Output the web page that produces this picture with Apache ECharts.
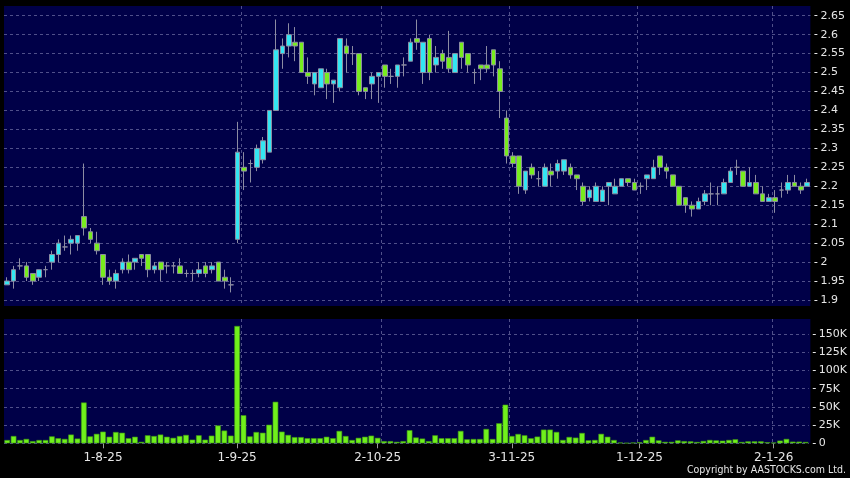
<!DOCTYPE html>
<html>
<head>
<meta charset="utf-8">
<script src="https://cdn.jsdelivr.net/npm/echarts@6/dist/echarts.min.js"></script>
<style>
html,body{margin:0;padding:0;background:#000;}
#c{width:850px;height:478px;}
</style>
</head>
<body>
<div id="c"></div>
<script>
const dates = [
'11-7-25','14-7-25','15-7-25','16-7-25','17-7-25','18-7-25','21-7-25','22-7-25','23-7-25','24-7-25','25-7-25','28-7-25','29-7-25','30-7-25','31-7-25',
'1-8-25','4-8-25','5-8-25','6-8-25','7-8-25','8-8-25','11-8-25','12-8-25','13-8-25','14-8-25','15-8-25','18-8-25','19-8-25','20-8-25','21-8-25','22-8-25','25-8-25','26-8-25','27-8-25','28-8-25','29-8-25',
'1-9-25','2-9-25','3-9-25','4-9-25','5-9-25','8-9-25','9-9-25','10-9-25','11-9-25','12-9-25','15-9-25','16-9-25','17-9-25','18-9-25','19-9-25','22-9-25','23-9-25','24-9-25','25-9-25','26-9-25','29-9-25','30-9-25',
'2-10-25','3-10-25','6-10-25','7-10-25','8-10-25','9-10-25','10-10-25','13-10-25','14-10-25','15-10-25','16-10-25','17-10-25','20-10-25','21-10-25','22-10-25','23-10-25','24-10-25','27-10-25','28-10-25','30-10-25','31-10-25',
'3-11-25','4-11-25','5-11-25','6-11-25','7-11-25','10-11-25','11-11-25','12-11-25','13-11-25','14-11-25','17-11-25','18-11-25','19-11-25','20-11-25','21-11-25','24-11-25','25-11-25','26-11-25','27-11-25','28-11-25',
'1-12-25','2-12-25','3-12-25','4-12-25','5-12-25','8-12-25','9-12-25','10-12-25','11-12-25','12-12-25','15-12-25','16-12-25','17-12-25','18-12-25','19-12-25','22-12-25','23-12-25','24-12-25','29-12-25','30-12-25','31-12-25',
'2-1-26','5-1-26','6-1-26','7-1-26','8-1-26','9-1-26'
];

const opens = [
1.94,1.95,1.99,1.99,1.97,1.96,1.98,2.00,2.02,2.04,
2.05,2.05,2.12,2.08,2.05,2.02,1.96,1.95,1.98,2.00,
2.00,2.02,2.02,1.98,2.00,1.99,1.99,1.99,1.97,1.97,
1.97,1.99,1.98,2.00,1.96,1.94,2.06,2.25,2.26,2.25,
2.27,2.29,2.40,2.55,2.57,2.58,2.58,2.50,2.47,2.46,
2.50,2.47,2.46,2.57,2.55,2.55,2.46,2.47,2.49,2.52,
2.49,2.49,2.52,2.53,2.59,2.50,2.59,2.52,2.55,2.54,
2.50,2.58,2.55,2.50,2.52,2.52,2.56,2.51,2.38,2.28,
2.28,2.19,2.25,2.22,2.20,2.24,2.24,2.24,2.25,2.23,
2.20,2.17,2.16,2.16,2.20,2.18,2.20,2.22,2.21,2.20,
2.22,2.22,2.28,2.25,2.23,2.20,2.17,2.15,2.14,2.16,
2.18,2.18,2.18,2.21,2.25,2.24,2.20,2.21,2.18,2.16,
2.17,2.19,2.19,2.21,2.20,2.20
];
const closes = [
1.95,1.98,1.99,1.96,1.95,1.98,1.98,2.02,2.05,2.04,
2.06,2.07,2.09,2.06,2.03,1.96,1.95,1.97,2.00,1.98,
2.01,2.01,1.98,1.99,1.98,1.99,1.99,1.97,1.97,1.97,
1.98,1.97,1.99,1.95,1.95,1.94,2.29,2.24,2.26,2.30,
2.32,2.40,2.56,2.57,2.60,2.57,2.50,2.49,2.50,2.51,
2.47,2.48,2.59,2.55,2.55,2.45,2.45,2.49,2.50,2.49,
2.49,2.52,2.52,2.58,2.58,2.58,2.50,2.54,2.53,2.51,
2.55,2.54,2.52,2.50,2.51,2.51,2.52,2.45,2.28,2.26,
2.20,2.24,2.23,2.22,2.25,2.23,2.26,2.27,2.23,2.22,
2.16,2.19,2.20,2.19,2.21,2.20,2.22,2.21,2.19,2.20,
2.23,2.25,2.25,2.24,2.20,2.15,2.15,2.14,2.16,2.18,
2.18,2.18,2.21,2.24,2.25,2.20,2.21,2.18,2.16,2.17,
2.16,2.19,2.21,2.20,2.19,2.21
];
const lows = [
1.94,1.93,1.98,1.95,1.94,1.95,1.96,1.98,2.00,2.03,
2.02,2.03,2.07,2.05,2.02,1.94,1.94,1.93,1.97,1.97,
1.98,1.99,1.96,1.97,1.95,1.97,1.97,1.97,1.96,1.95,
1.96,1.96,1.97,1.95,1.93,1.92,2.05,2.19,2.21,2.24,
2.26,2.29,2.40,2.51,2.54,2.53,2.50,2.47,2.44,2.46,
2.43,2.42,2.45,2.50,2.52,2.44,2.43,2.43,2.42,2.46,
2.47,2.46,2.49,2.53,2.56,2.47,2.48,2.50,2.51,2.50,
2.50,2.51,2.50,2.47,2.48,2.50,2.49,2.38,2.26,2.25,
2.18,2.18,2.22,2.20,2.20,2.20,2.22,2.23,2.22,2.19,
2.15,2.16,2.16,2.16,2.15,2.18,2.20,2.20,2.19,2.18,
2.19,2.22,2.23,2.22,2.20,2.15,2.13,2.12,2.14,2.15,
2.15,2.15,2.18,2.21,2.23,2.20,2.20,2.18,2.16,2.16,
2.13,2.17,2.18,2.20,2.18,2.20
];
const highs = [
1.96,1.99,2.01,2.00,1.97,1.98,1.99,2.03,2.06,2.07,
2.07,2.07,2.26,2.09,2.08,2.02,1.98,1.98,2.01,2.02,
2.01,2.02,2.02,2.00,2.00,2.00,2.00,2.01,1.98,1.98,
2.00,2.00,2.00,2.00,1.98,1.96,2.37,2.29,2.27,2.31,
2.33,2.40,2.64,2.59,2.63,2.62,2.58,2.54,2.50,2.51,
2.51,2.48,2.59,2.59,2.57,2.55,2.46,2.50,2.50,2.52,
2.51,2.52,2.54,2.59,2.64,2.58,2.60,2.57,2.56,2.61,
2.55,2.58,2.55,2.51,2.52,2.57,2.56,2.53,2.40,2.29,
2.28,2.24,2.26,2.24,2.26,2.26,2.27,2.27,2.26,2.23,
2.21,2.20,2.21,2.20,2.21,2.22,2.22,2.22,2.22,2.21,
2.23,2.27,2.28,2.26,2.23,2.20,2.17,2.16,2.17,2.19,
2.21,2.20,2.22,2.25,2.27,2.24,2.25,2.23,2.20,2.18,
2.19,2.21,2.23,2.23,2.21,2.22
];
const volumes = [
4500,10000,4500,6000,3000,4500,4500,9500,7000,6000,
12000,6500,56000,9500,13000,16000,9000,15500,14500,7000,
9000,2000,11000,10000,12000,9000,7500,10000,11500,5000,
11000,5000,10500,24500,17500,10500,161000,38500,9500,15500,
14500,25500,57000,16000,11500,8500,8500,7000,7000,7000,
9000,7000,17000,10000,4500,7500,9000,10500,7500,3000,
3000,2000,3000,18000,8000,6500,3000,11000,7000,7000,
7000,17000,5500,5900,5900,19700,5900,27500,53000,10000,
12800,11000,6900,9200,18800,18800,15600,4600,8700,7800,
14200,4100,4600,13000,9000,4500,1000,500,1000,1500,
4500,9000,4000,2000,2000,4000,3000,2700,1800,3200,
4600,4000,3600,4600,5500,1800,2700,2700,2700,1400,
1000,3700,6000,2300,2300,1800
];
const priceTicks = {min: 1.9, max: 2.65, step: 0.05};
const volumeTicks = {min: 0, max: 150000, step: 25000};
const tickLabels = ['1-8-25','1-9-25','2-10-25','3-11-25','1-12-25','2-1-26'];
const gridLineDates = ['4-8-25','2-9-25','3-10-25','3-11-25','1-12-25','2-1-26'];

const candles = dates.map((d, i) => [opens[i], closes[i], lows[i], highs[i]]);

const NAVY = '#000048';
const GRIDC = '#50508a';
const TEXTC = '#e6e6e6';
const FONT = 'DejaVu Sans';
const L = 4, W = 806.4;

const isGridLine = (i, v) => gridLineDates.indexOf(v) >= 0;
const isTick = (i, v) => tickLabels.indexOf(v) >= 0;

const chart = echarts.init(document.getElementById('c'), null, {renderer: 'canvas'});
chart.setOption({
  backgroundColor: '#000',
  animation: false,
  grid: [
    {left: L, top: 6, width: W, height: 300, show: true, backgroundColor: NAVY, borderWidth: 0},
    {left: L, top: 15.7, width: W, height: 284.3, show: false},
    {left: L, top: 319, width: W, height: 124.3, show: true, backgroundColor: NAVY, borderWidth: 0},
    {left: L, top: 334, width: W, height: 109.3, show: false}
  ],
  xAxis: [
    {type: 'category', gridIndex: 0, data: dates, boundaryGap: true,
     axisLine: {show: false}, axisTick: {show: false}, axisLabel: {show: false},
     splitLine: {show: true, interval: isGridLine, showMinLine: false, showMaxLine: false,
                 lineStyle: {color: GRIDC, type: [3, 3], width: 1}}},
    {type: 'category', gridIndex: 1, data: dates, boundaryGap: true,
     axisLine: {show: false}, axisTick: {show: false}, axisLabel: {show: false}, splitLine: {show: false}},
    {type: 'category', gridIndex: 2, data: dates, boundaryGap: true,
     axisLine: {show: false}, axisTick: {show: false}, axisLabel: {show: false},
     splitLine: {show: true, interval: isGridLine, showMinLine: false, showMaxLine: false,
                 lineStyle: {color: GRIDC, type: [3, 3], width: 1}}},
    {type: 'category', gridIndex: 3, data: dates, boundaryGap: true,
     axisLine: {show: false},
     axisTick: {show: true, interval: isTick, alignWithLabel: true, length: 5, lineStyle: {color: '#9a9a9a'}},
     axisLabel: {show: true, interval: isTick, color: TEXTC, fontFamily: FONT, fontSize: 12, margin: 9},
     splitLine: {show: false}}
  ],
  yAxis: [
    {type: 'value', gridIndex: 0, show: false, min: 0, max: 1},
    {type: 'value', gridIndex: 1, position: 'right', offset: 4,
     min: priceTicks.min, max: priceTicks.max, interval: priceTicks.step,
     axisLine: {show: false},
     axisTick: {show: true, length: 3, lineStyle: {color: TEXTC}},
     axisLabel: {color: TEXTC, fontFamily: FONT, fontSize: 11, margin: 6,
                 formatter: v => String(+v.toFixed(2))},
     splitLine: {show: true, lineStyle: {color: GRIDC, type: [3, 3], width: 1}}},
    {type: 'value', gridIndex: 2, show: false, min: 0, max: 1},
    {type: 'value', gridIndex: 3, position: 'right', offset: 4,
     min: volumeTicks.min, max: volumeTicks.max, interval: volumeTicks.step,
     axisLine: {show: false},
     axisTick: {show: true, length: 3, lineStyle: {color: TEXTC}},
     axisLabel: {color: TEXTC, fontFamily: FONT, fontSize: 11, margin: 6,
                 formatter: v => v === 0 ? '0' : (v / 1000) + 'K'},
     splitLine: {show: true, lineStyle: {color: GRIDC, type: [3, 3], width: 1}}}
  ],
  series: [
    {type: 'candlestick', xAxisIndex: 1, yAxisIndex: 1, data: candles, barWidth: 5.2,
     itemStyle: {color: '#33e6f2', color0: '#78ec1e', borderColor: '#8c8ca2', borderColor0: '#8c8ca2',
                 borderColorDoji: '#8c8ca2', borderWidth: 1}},
    {type: 'bar', xAxisIndex: 3, yAxisIndex: 3, data: volumes, barWidth: 5.6, clip: false,
     itemStyle: {color: '#70f01c', borderColor: '#3f9a12', borderWidth: 0.6}}
  ],
  graphic: [
    {type: 'text', right: 4, top: 465,
     style: {text: 'Copyright by AASTOCKS.com Ltd.', fill: TEXTC, font: '10.5px "DejaVu Sans Condensed", "DejaVu Sans"'}}
  ]
});
</script>
</body>
</html>
